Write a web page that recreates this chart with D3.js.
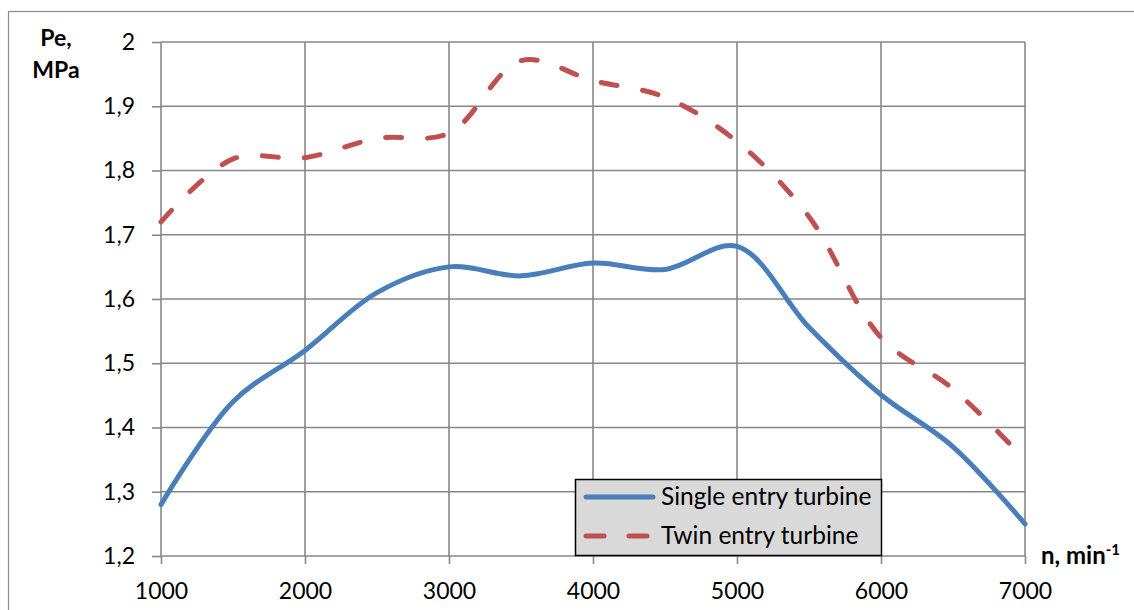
<!DOCTYPE html>
<html>
<head>
<meta charset="utf-8">
<script src="https://cdn.jsdelivr.net/npm/d3@7"></script>
<style>
  body { margin: 0; background: #fff; }
  svg { display: block; font-family: Lato, "Open Sans", sans-serif; }
</style>
</head>
<body>
<script>
// engine speed, min^-1
var speeds = [1000, 1500, 2000, 2500, 3000, 3500, 4000, 4500, 5000, 5500, 6000, 6500, 7000];
// Pe, MPa
var singleEntry = [1.28, 1.44, 1.52, 1.61, 1.65, 1.636, 1.656, 1.646, 1.682, 1.556, 1.451, 1.37, 1.25];
var twinEntry = [1.72, 1.818, 1.82, 1.85, 1.858, 1.971, 1.94, 1.914, 1.845, 1.728, 1.54, 1.46, 1.35];

var xTicks = [1000, 2000, 3000, 4000, 5000, 6000, 7000];
var yTicks = [1.2, 1.3, 1.4, 1.5, 1.6, 1.7, 1.8, 1.9, 2];
var seriesNames = ["Single entry turbine", "Twin entry turbine"];

var width = 1134, height = 610;
var margin = {top: 42, right: 109, bottom: 54, left: 161};

var x = d3.scaleLinear()
    .domain([1000, 7000])
    .range([margin.left, width - margin.right]);
var y = d3.scaleLinear()
    .domain([1.2, 2])
    .range([height - margin.bottom, margin.top]);

var svg = d3.select("body").append("svg")
    .attr("width", width)
    .attr("height", height);

// outer chart border (runs off the right and bottom of the picture)
svg.append("rect")
    .attr("x", 8.5).attr("y", 11.5)
    .attr("width", width + 20).attr("height", height + 20)
    .attr("fill", "none")
    .attr("stroke", "#8c8c8c")
    .attr("stroke-width", 1.2);

var grid = "#878787";

// horizontal gridlines + y axis
var yAxis = svg.append("g")
    .attr("transform", "translate(" + margin.left + ",0)")
    .call(d3.axisLeft(y)
      .tickValues(yTicks)
      .tickSize(9)
      .tickPadding(17)
      .tickFormat(function(d) { return d3.format("")(d).replace(".", ","); }));
yAxis.select(".domain").remove();
yAxis.selectAll("line").attr("stroke", grid).attr("stroke-width", 1.6);
yAxis.selectAll("text").attr("font-size", 23).attr("fill", "#000").attr("font-family", "Lato");

svg.append("g").selectAll("line")
    .data(yTicks)
  .enter().append("line")
    .attr("x1", x(1000)).attr("x2", x(7000))
    .attr("y1", function(d) { return y(d); })
    .attr("y2", function(d) { return y(d); })
    .attr("stroke", grid).attr("stroke-width", 1.6);

// vertical gridlines + x axis
var xAxis = svg.append("g")
    .attr("transform", "translate(0," + y(1.2) + ")")
    .call(d3.axisBottom(x)
      .tickValues(xTicks)
      .tickSize(8)
      .tickPadding(19)
      .tickFormat(d3.format("d")));
xAxis.select(".domain").remove();
xAxis.selectAll("line").attr("stroke", grid).attr("stroke-width", 1.6);
xAxis.selectAll("text").attr("font-size", 23).attr("fill", "#000").attr("font-family", "Lato");

svg.append("g").selectAll("line")
    .data(xTicks)
  .enter().append("line")
    .attr("x1", function(d) { return x(d); })
    .attr("x2", function(d) { return x(d); })
    .attr("y1", y(2)).attr("y2", y(1.2))
    .attr("stroke", grid).attr("stroke-width", 1.6);

// curves (smoothed like the spreadsheet chart)
var line = d3.line()
    .x(function(d) { return x(d[0]); })
    .y(function(d) { return y(d[1]); })
    .curve(d3.curveCatmullRom.alpha(0.5));

svg.append("path")
    .datum(d3.zip(speeds, twinEntry))
    .attr("d", line)
    .attr("fill", "none")
    .attr("stroke", "#c0504d")
    .attr("stroke-width", 5)
    .attr("stroke-linecap", "round")
    .attr("stroke-dasharray", "16,26");

svg.append("path")
    .datum(d3.zip(speeds, singleEntry))
    .attr("d", line)
    .attr("fill", "none")
    .attr("stroke", "#4a7ebb")
    .attr("stroke-width", 5)
    .attr("stroke-linecap", "round");

// axis titles
var yTitle = svg.append("text")
    .attr("font-weight", "bold")
    .attr("font-size", 23)
    .attr("text-anchor", "middle");
yTitle.append("tspan").attr("x", 56).attr("y", 46).text("Pe,");
yTitle.append("tspan").attr("x", 56).attr("y", 78).text("MPa");

var xTitle = svg.append("text")
    .attr("x", 1041).attr("y", 564)
    .attr("font-weight", "bold")
    .attr("font-size", 24);
xTitle.append("tspan").text("n, min");
xTitle.append("tspan").attr("dy", -9).attr("font-size", 15).text("-1");

// legend
var legend = svg.append("g");
legend.append("rect")
    .attr("x", 575.5).attr("y", 479.5)
    .attr("width", 306).attr("height", 76)
    .attr("fill", "#d9d9d9")
    .attr("stroke", "#000")
    .attr("stroke-width", 1.5);

var legendRows = [
  {name: seriesNames[0], color: "#4a7ebb", dash: null, y: 497},
  {name: seriesNames[1], color: "#c0504d", dash: "18,25", y: 536}
];
legendRows.forEach(function(r) {
  legend.append("line")
      .attr("x1", 586).attr("x2", 653)
      .attr("y1", r.y).attr("y2", r.y)
      .attr("stroke", r.color)
      .attr("stroke-width", 5)
      .attr("stroke-linecap", "round")
      .attr("stroke-dasharray", r.dash);
  legend.append("text")
      .attr("x", 661).attr("y", r.y + 8)
      .attr("font-size", 24.5)
      .text(r.name);
});
</script>
</body>
</html>
